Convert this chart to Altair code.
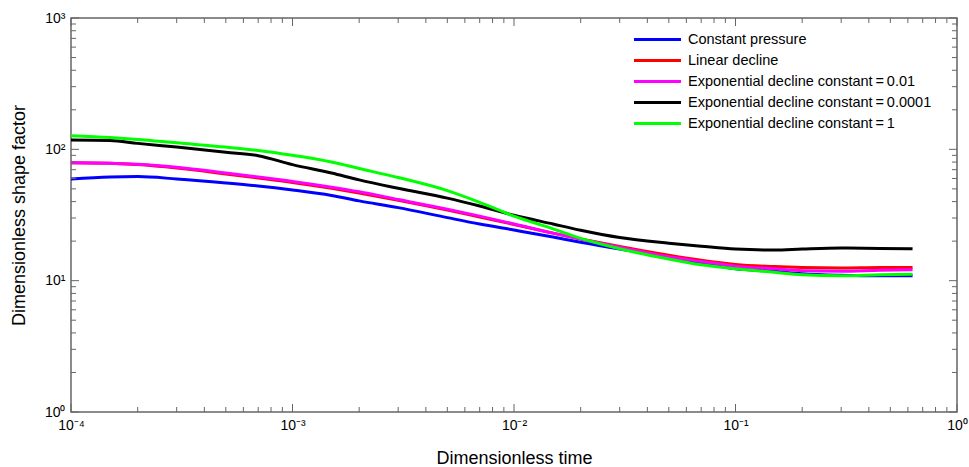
import altair as alt
import pandas as pd

# ---- data ----
x_vals = [1e-4, 1.5e-4, 2e-4, 3e-4, 5e-4, 7e-4, 1e-3, 1.5e-3, 2e-3, 3e-3, 5e-3, 7e-3,
          1e-2, 1.5e-2, 2e-2, 3e-2, 5e-2, 7e-2, 0.1, 0.15, 0.2, 0.3, 0.45, 0.63]

constant_pressure = [59.5, 61.5, 62, 59.5, 55.5, 52.6, 49, 44.5, 40.5, 36, 30.2, 27,
                     24.3, 21.5, 19.6, 17.4, 15.2, 13.7, 12.3, 11.8, 11.3, 11.0, 10.9, 10.9]
linear_decline = [79, 78.5, 76.5, 72, 65, 60.5, 56, 50.5, 46.5, 41, 34.5, 30.5,
                  26.8, 23, 20.8, 18.2, 15.6, 14.3, 13.3, 12.8, 12.6, 12.5, 12.6, 12.6]
exp_001 = [79, 78.5, 77, 73, 66, 61.5, 57, 51.5, 47.5, 41.5, 35, 31,
           27, 23, 20.7, 18, 15.2, 14, 12.9, 12.3, 11.9, 11.8, 12.0, 12.1]
exp_00001 = [118, 117, 111, 104, 95, 89.5, 76.5, 66, 58.5, 50.5, 42.5, 37,
             31.5, 27, 24.2, 21.3, 19.3, 18.3, 17.4, 17.1, 17.4, 17.7, 17.6, 17.5]
exp_1 = [127, 123, 119, 112, 104, 98, 90, 80, 71.5, 61, 48.5, 39.5,
         31, 24.8, 21, 17.5, 14.6, 13.2, 12.3, 11.6, 11.1, 10.9, 11.1, 11.2]

series_names = ["Constant pressure", "Linear decline",
                "Exponential decline constant\u2009=\u20090.01",
                "Exponential decline constant\u2009=\u20090.0001",
                "Exponential decline constant\u2009=\u20091"]
series_colors = ["#0000FF", "#FF0000", "#FF00FF", "#000000", "#00FF00"]
series_values = [constant_pressure, linear_decline, exp_001, exp_00001, exp_1]

# axis tick positions (decades and their 2..9 subdivisions)
x_major = [1e-4, 1e-3, 1e-2, 1e-1, 1]
x_minor = [k * 10.0 ** e for e in range(-4, 0) for k in range(2, 10)]
y_major = [1, 10, 100, 1000]
y_minor = [k * 10.0 ** e for e in range(0, 3) for k in range(2, 10)]

rows = []
for name, vals in zip(series_names, series_values):
    for i, (xv, yv) in enumerate(zip(x_vals, vals)):
        rows.append({"x": xv, "y": yv, "series": name, "order": i})
df = pd.DataFrame(rows)

xt = pd.DataFrame({"v": x_major + x_minor,
                   "major": [True] * len(x_major) + [False] * len(x_minor)})
yt = pd.DataFrame({"v": y_major + y_minor,
                   "major": [True] * len(y_major) + [False] * len(y_minor)})

W, H = 886, 394
FONT = "Liberation Sans"
TICK = "#666666"
# tick lengths expressed as ratios on the log axes (about 8 px major, 5 px minor)
FY_MAJ, FY_MIN = 1.151, 1.0916
FX_MAJ, FX_MIN = 1.087, 1.0533

sup = "round(log(datum.value)/LN10)"
x_label_expr = (f"{sup}==-4?'10⁻⁴':{sup}==-3?'10⁻³':{sup}==-2?'10⁻²':"
                f"{sup}==-1?'10⁻¹':'10⁰'")
y_label_expr = f"{sup}==0?'10⁰':{sup}==1?'10¹':{sup}==2?'10²':'10³'"

xscale = alt.Scale(type="log", domain=[1e-4, 1], nice=False)
yscale = alt.Scale(type="log", domain=[1, 1000], nice=False)

lines = alt.Chart(df).mark_line(strokeWidth=3, interpolate="monotone").encode(
    x=alt.X("x:Q", scale=xscale,
            axis=alt.Axis(orient="bottom", values=x_major, ticks=False,
                          domain=False, grid=False, labelFlush=False,
                          labelExpr=x_label_expr, labelFontSize=14,
                          labelFont=FONT, labelPadding=6, labelColor="#000",
                          title="Dimensionless time", titleFont=FONT,
                          titleFontSize=18, titleFontWeight="normal",
                          titlePadding=17, titleColor="#000")),
    y=alt.Y("y:Q", scale=yscale,
            axis=alt.Axis(orient="left", values=y_major, ticks=False,
                          domain=False, grid=False, labelFlush=False,
                          labelExpr=y_label_expr, labelFontSize=14,
                          labelFont=FONT, labelPadding=6, labelColor="#000",
                          title="Dimensionless shape factor", titleFont=FONT,
                          titleFontSize=18, titleFontWeight="normal",
                          titlePadding=16, titleColor="#000")),
    color=alt.Color("series:N", sort=series_names,
                    scale=alt.Scale(domain=series_names, range=series_colors),
                    legend=alt.Legend(orient="none", legendX=562, legendY=14,
                                      title=None, symbolType="M-4,0L4,0",
                                      symbolStrokeWidth=3, symbolSize=138,
                                      symbolOffset=17,
                                      labelFont=FONT, labelFontSize=14.5,
                                      labelLimit=0,
                                      labelColor="#000", rowPadding=6,
                                      labelOffset=23)),
    order="order:Q",
)

xticks_base = alt.Chart(xt).transform_calculate(
    bot=f"datum.major ? {FY_MAJ} : {FY_MIN}",
    top=f"datum.major ? 1000/{FY_MAJ} : 1000/{FY_MIN}",
)
bottom_ticks = xticks_base.mark_rule(color=TICK, strokeWidth=1).encode(
    x=alt.X("v:Q", scale=xscale, axis=None),
    y=alt.Y("bot:Q", scale=yscale, axis=None),
    y2=alt.datum(1),
)
top_ticks = xticks_base.mark_rule(color=TICK, strokeWidth=1).encode(
    x=alt.X("v:Q", scale=xscale, axis=None),
    y=alt.Y("top:Q", scale=yscale, axis=None),
    y2=alt.datum(1000),
)

yticks_base = alt.Chart(yt).transform_calculate(
    lft=f"datum.major ? 0.0001*{FX_MAJ} : 0.0001*{FX_MIN}",
    rgt=f"datum.major ? 1/{FX_MAJ} : 1/{FX_MIN}",
)
left_ticks = yticks_base.mark_rule(color=TICK, strokeWidth=1).encode(
    y=alt.Y("v:Q", scale=yscale, axis=None),
    x=alt.X("lft:Q", scale=xscale, axis=None),
    x2=alt.datum(0.0001),
)
right_ticks = yticks_base.mark_rule(color=TICK, strokeWidth=1).encode(
    y=alt.Y("v:Q", scale=yscale, axis=None),
    x=alt.X("rgt:Q", scale=xscale, axis=None),
    x2=alt.datum(1),
)

chart = alt.layer(
    lines, bottom_ticks, top_ticks, left_ticks, right_ticks
).resolve_axis(
    x="independent", y="independent"
).properties(
    width=W, height=H,
    autosize=alt.AutoSizeParams(type="none"),
    padding={"left": 71, "top": 18, "right": 12, "bottom": 55},
).configure_view(stroke="#666666", strokeWidth=1.5)

chart.save("out.html", embed_options={"renderer": "svg", "actions": False})
